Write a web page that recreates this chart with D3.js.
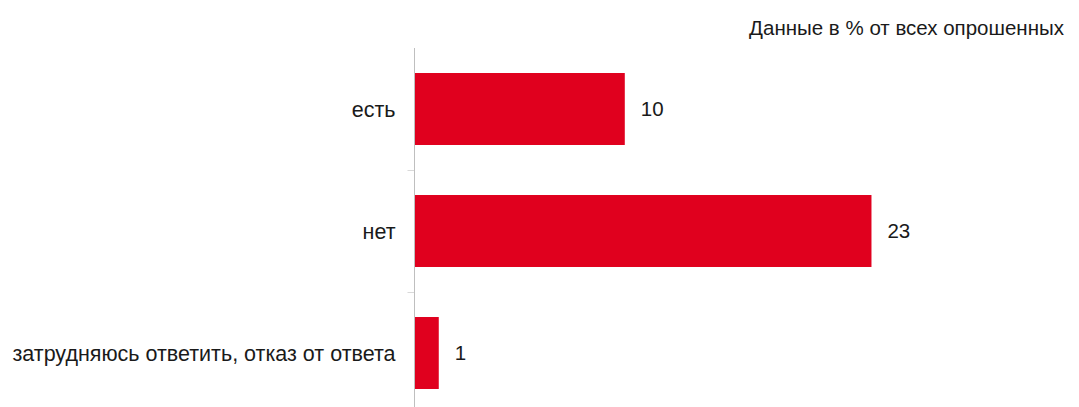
<html>
<head>
    <meta charset="utf-8">
    <title>Bar chart</title>
    <style>
        body { margin: 0; background: white; }
        text { font-family: "Liberation Sans", Arial, sans-serif; fill: #1a1a1a; }
        .cat { font-size: 21.5px; }
        .val { font-size: 20.5px; }
        .note { font-size: 20.5px; }
    </style>
    <script src="https://cdn.jsdelivr.net/npm/d3@7"></script>
</head>
<body>
<div id="chart"></div>
<script>
    var categories = ['есть', 'нет', 'затрудняюсь ответить, отказ от ответа'];
    var values = [10.4, 22.6, 1.2];
    var valueLabels = ['10', '23', '1'];
    var note = 'Данные в % от всех опрошенных';

    var width = 1079, height = 407;
    var axisX = 414.5, axisTop = 48;

    var svg = d3.select('#chart')
            .append('svg')
            .attr('width', width)
            .attr('height', height);

    var x = d3.scaleLinear()
            .domain([0, 25])
            .range([axisX, axisX + 505.5]);

    var y = d3.scaleBand()
            .domain(categories)
            .range([axisTop, axisTop + 366])
            .paddingInner(0.41)
            .paddingOuter(0.205);

    // short ticks between categories, left of the axis
    function sepY(d) {
        return Math.round(y(d) - y.step() * y.paddingInner() / 2) + 0.5;
    }
    svg.selectAll('line.sep')
            .data(categories.slice(1))
        .enter().append('line')
            .attr('class', 'sep')
            .attr('x1', axisX - 7)
            .attr('x2', axisX)
            .attr('y1', sepY)
            .attr('y2', sepY)
            .attr('stroke', '#d9d9d9')
            .attr('stroke-width', 1);

    svg.selectAll('rect')
            .data(values)
        .enter().append('rect')
            .attr('x', x(0))
            .attr('y', function(d, i) { return y(categories[i]); })
            .attr('width', function(d) { return x(d) - x(0); })
            .attr('height', y.bandwidth())
            .attr('fill', '#e0001e');

    // vertical axis line
    svg.append('line')
            .attr('x1', axisX)
            .attr('x2', axisX)
            .attr('y1', axisTop)
            .attr('y2', height)
            .attr('stroke', '#bfbfbf')
            .attr('stroke-width', 1);

    svg.selectAll('text.cat')
            .data(categories)
        .enter().append('text')
            .attr('class', 'cat')
            .attr('x', axisX - 19)
            .attr('y', function(d) { return y(d) + y.bandwidth() / 2; })
            .attr('dy', '0.35em')
            .attr('text-anchor', 'end')
            .text(function(d) { return d; });

    svg.selectAll('text.val')
            .data(values)
        .enter().append('text')
            .attr('class', 'val')
            .attr('x', function(d) { return x(d) + 16; })
            .attr('y', function(d, i) { return y(categories[i]) + y.bandwidth() / 2; })
            .attr('dy', '0.35em')
            .text(function(d, i) { return valueLabels[i]; });

    svg.append('text')
            .attr('class', 'note')
            .attr('x', 1064)
            .attr('y', 35)
            .attr('text-anchor', 'end')
            .text(note);
</script>
</body>
</html>
